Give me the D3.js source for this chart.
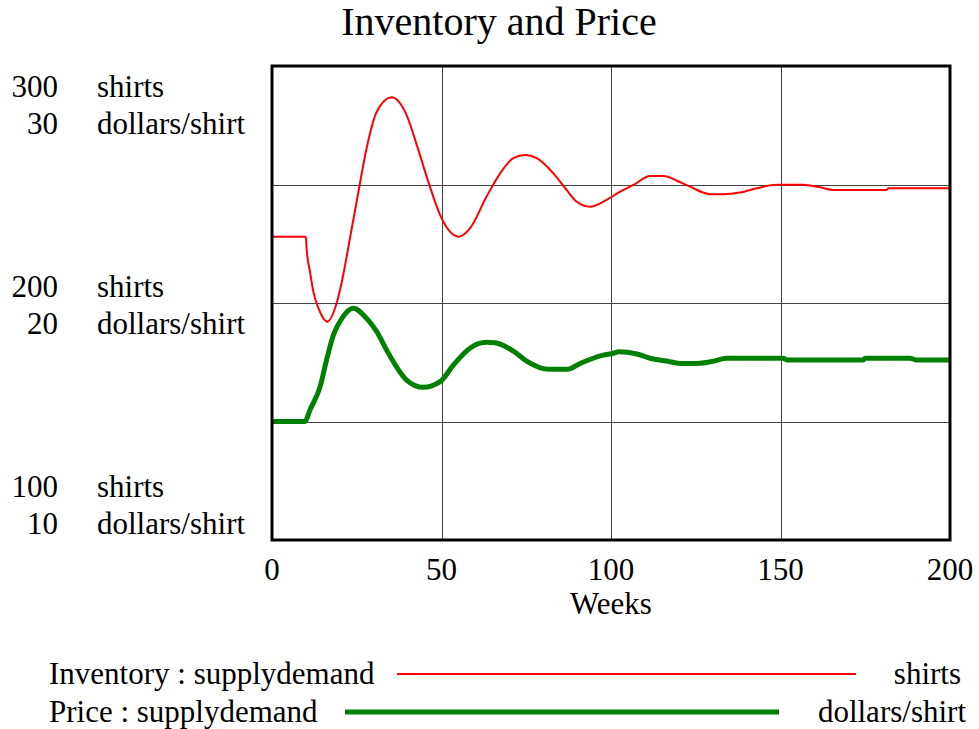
<!DOCTYPE html>
<html>
<head>
<meta charset="utf-8">
<script src="https://cdn.jsdelivr.net/npm/d3@7"></script>
<style>
  body { margin: 0; background: #fff; }
  text { font-family: "Liberation Serif", "Times New Roman", serif; fill: #000; }
</style>
</head>
<body>
<svg id="chart" width="979" height="729"></svg>
<script>
var inventoryWeeks = [0, 10, 10.2, 11.2, 12.2, 13.7, 16.3, 18.6, 20.6, 23, 25.5, 27.9, 30.9, 35.3, 39.7, 42.7, 46.1, 49.6, 52.5, 55, 58.4, 63.3, 67.3, 71.2, 74.6, 78.1, 83, 86.9, 89.9, 93.8, 98.7, 102.7, 106.6, 111.6, 115.6, 119.4, 123.3, 127.2, 129.2, 133.2, 138, 143, 148.9, 156.7, 161.7, 165.6, 181.3, 181.8, 200];
var inventoryValues = [228, 228, 223.1, 213.2, 204.8, 197.8, 192.1, 197.8, 209, 227.3, 247, 265.3, 280.7, 286.8, 279.3, 266.7, 251.2, 237.1, 230.1, 228, 231.5, 244.9, 254.7, 261.1, 262.4, 261.1, 254.7, 247.7, 242.7, 240.6, 243.5, 247, 249.8, 253.6, 253.6, 251.6, 249.1, 246.6, 245.9, 245.9, 246.6, 248.4, 249.9, 249.9, 248.8, 247.7, 247.7, 248.4, 248.4];

var priceWeeks = [0, 9.7, 11.2, 14.2, 16.1, 18.1, 20.6, 24, 27.9, 30.9, 33.8, 36.8, 39.7, 44.6, 49.6, 53.5, 58.4, 63.3, 65.8, 71.2, 75.1, 81.7, 87.2, 90.9, 97.7, 100.7, 102.2, 107.6, 111.5, 116.4, 120.4, 125.3, 130.7, 134, 150.8, 151.8, 174.4, 175, 188.2, 190, 200];
var priceValues = [15, 15, 15.49, 16.47, 17.6, 18.65, 19.35, 19.78, 19.35, 18.79, 18.02, 17.29, 16.75, 16.44, 16.68, 17.38, 18.09, 18.34, 18.32, 17.97, 17.55, 17.2, 17.2, 17.45, 17.8, 17.88, 17.94, 17.85, 17.67, 17.55, 17.45, 17.45, 17.56, 17.67, 17.67, 17.6, 17.6, 17.67, 17.67, 17.6, 17.6];

var xTicks = [0, 50, 100, 150, 200];
var shirtTicks = [300, 200, 100];
var dollarTicks = [30, 20, 10];

var svg = d3.select("#chart");

var plotL = 272, plotR = 950, plotT = 66, plotB = 540;
var fs = 31;

var x = d3.scaleLinear().domain([0, 200]).range([plotL, plotR]);
var yInv = d3.scaleLinear().domain([100, 300]).range([plotB, plotT]);
var yPrice = d3.scaleLinear().domain([10, 30]).range([plotB, plotT]);
// where the two-line axis labels sit
var yLabel = d3.scaleLinear().domain([100, 300]).range([497, 97]);

svg.append("text")
    .attr("x", 499)
    .attr("y", 35)
    .attr("text-anchor", "middle")
    .attr("font-size", 40)
    .text("Inventory and Price");

// grid
svg.append("g")
    .selectAll("line")
    .data([50, 100, 150])
    .join("line")
    .attr("x1", d => Math.round(x(d)) + 0.5)
    .attr("x2", d => Math.round(x(d)) + 0.5)
    .attr("y1", plotT)
    .attr("y2", plotB)
    .attr("stroke", "#444")
    .attr("stroke-width", 1);

svg.append("g")
    .selectAll("line")
    .data([150, 200, 250])
    .join("line")
    .attr("y1", d => Math.round(yInv(d)) + 0.5)
    .attr("y2", d => Math.round(yInv(d)) + 0.5)
    .attr("x1", plotL)
    .attr("x2", plotR)
    .attr("stroke", "#444")
    .attr("stroke-width", 1);

var invData = inventoryWeeks.map((w, i) => ({ w: w, v: inventoryValues[i] }));
var priceData = priceWeeks.map((w, i) => ({ w: w, v: priceValues[i] }));

svg.append("path")
    .datum(invData)
    .attr("fill", "none")
    .attr("stroke", "#ff0000")
    .attr("stroke-width", 2)
    .attr("d", d3.line().x(d => x(d.w)).y(d => yInv(d.v)).curve(d3.curveMonotoneX));

svg.append("path")
    .datum(priceData)
    .attr("fill", "none")
    .attr("stroke", "#008000")
    .attr("stroke-width", 5)
    .attr("stroke-linejoin", "round")
    .attr("d", d3.line().x(d => x(d.w)).y(d => yPrice(d.v)).curve(d3.curveMonotoneX));

// frame
svg.append("rect")
    .attr("x", plotL)
    .attr("y", plotT)
    .attr("width", plotR - plotL)
    .attr("height", plotB - plotT)
    .attr("fill", "none")
    .attr("stroke", "#000")
    .attr("stroke-width", 3);

// y labels
var yl = svg.append("g").attr("font-size", fs);
yl.selectAll("text.num1")
    .data(shirtTicks)
    .join("text")
    .attr("class", "num1")
    .attr("x", 58).attr("y", d => yLabel(d))
    .attr("text-anchor", "end")
    .text(d => d);
yl.selectAll("text.unit1")
    .data(shirtTicks)
    .join("text")
    .attr("class", "unit1")
    .attr("x", 97).attr("y", d => yLabel(d))
    .text("shirts");
yl.selectAll("text.num2")
    .data(dollarTicks)
    .join("text")
    .attr("class", "num2")
    .attr("x", 58).attr("y", d => yLabel(d * 10) + 37)
    .attr("text-anchor", "end")
    .text(d => d);
yl.selectAll("text.unit2")
    .data(dollarTicks)
    .join("text")
    .attr("class", "unit2")
    .attr("x", 97).attr("y", d => yLabel(d * 10) + 37)
    .text("dollars/shirt");

// x axis labels
svg.append("g")
    .attr("font-size", fs)
    .attr("text-anchor", "middle")
    .selectAll("text")
    .data(xTicks)
    .join("text")
    .attr("x", d => x(d))
    .attr("y", 580)
    .text(d => d);

svg.append("text")
    .attr("x", (plotL + plotR) / 2)
    .attr("y", 614)
    .attr("text-anchor", "middle")
    .attr("font-size", fs)
    .text("Weeks");

// legend
var lg = svg.append("g").attr("font-size", fs);
lg.append("text").attr("x", 49).attr("y", 684).text("Inventory : supplydemand");
lg.append("line").attr("x1", 397).attr("x2", 856).attr("y1", 674).attr("y2", 674)
    .attr("stroke", "#ff0000").attr("stroke-width", 2);
lg.append("text").attr("x", 961).attr("y", 684).attr("text-anchor", "end").text("shirts");

lg.append("text").attr("x", 49).attr("y", 722).text("Price : supplydemand");
lg.append("line").attr("x1", 345).attr("x2", 779).attr("y1", 712).attr("y2", 712)
    .attr("stroke", "#008000").attr("stroke-width", 5);
lg.append("text").attr("x", 966).attr("y", 722).attr("text-anchor", "end").text("dollars/shirt");
</script>
</body>
</html>
